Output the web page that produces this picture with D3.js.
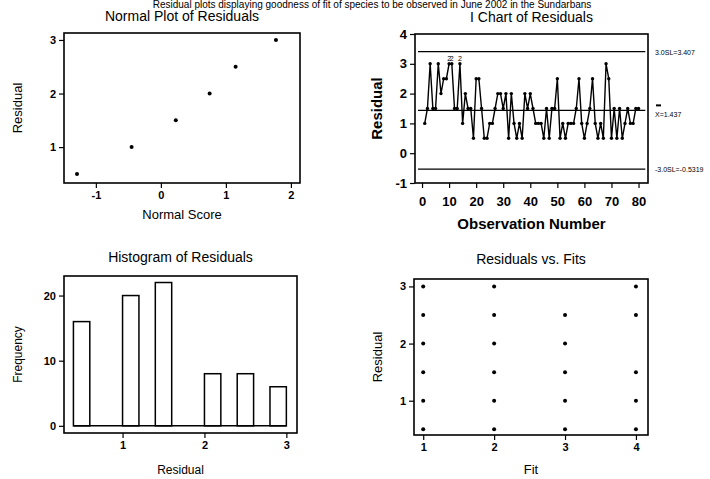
<!DOCTYPE html>
<html><head><meta charset="utf-8">
<script src="https://cdn.jsdelivr.net/npm/d3@7"></script>
<style>
body{margin:0;background:#fff;}
svg text{font-family:"Liberation Sans",Arial,sans-serif;fill:#000;}
</style></head>
<body><svg id="c" width="710" height="479"></svg>
<script>
// ---- data ----
const topCaption = "Residual plots displaying goodness of fit of species to be observed in June 2002 in the Sundarbans";
const normalScores = [-1.29, -0.45, 0.23, 0.75, 1.15, 1.77];
const normalResiduals = [0.5, 1.0, 1.5, 2.0, 2.5, 3.0];
const iChartValues = [1.0,1.5,3.0,1.5,1.5,3.0,2.0,2.5,2.5,3.0,
                      3.0,1.5,1.5,3.0,1.0,2.0,1.5,1.5,0.5,2.5,
                      2.5,1.5,0.5,0.5,1.0,1.0,1.5,2.0,2.0,1.5,
                      2.0,0.5,2.0,1.0,0.5,1.0,0.5,2.0,1.5,2.0,
                      1.5,1.0,1.0,1.0,0.5,1.5,0.5,1.5,1.5,2.5,
                      0.5,1.0,0.5,1.0,1.0,1.0,1.5,2.5,1.0,0.5,
                      1.0,1.5,2.5,1.0,0.5,1.0,0.5,3.0,2.5,0.5,
                      1.5,0.5,1.5,0.5,1.0,1.5,1.0,1.0,1.5,1.5];
const ucl = 3.407, centerLine = 1.437, lcl = -0.5319;
const limitLabels = ["3.0SL=3.407", "X=1.437", "-3.0SL=-0.5319"];
const failObs = [10, 11, 14];
const histLo = [0.4, 1.0, 1.4, 2.0, 2.4, 2.8];
const histHi = [0.6, 1.2, 1.6, 2.2, 2.6, 3.0];
const histFreq = [16, 20, 22, 8, 8, 6];
const fitX = [1,1,1,1,1,1, 2,2,2,2,2,2, 3,3,3,3,3, 4,4,4,4,4];
const fitResid = [3,2.5,2,1.5,1,0.5, 3,2.5,2,1.5,1,0.5, 2.5,2,1.5,1,0.5, 3,2.5,1.5,1,0.5];
const titles = ["Normal Plot of Residuals", "I Chart of Residuals", "Histogram of Residuals", "Residuals vs. Fits"];

// ---- drawing ----
const svg = d3.select("#c");
svg.append("text").attr("x", 372).attr("y", 8).attr("text-anchor","middle")
  .attr("font-size", 10).text(topCaption);

function panel(o){
  const g = svg.append("g");
  const x = d3.scaleLinear().domain(o.xd).range([o.l, o.r]);
  const y = d3.scaleLinear().domain(o.yd).range([o.b, o.t]);
  const fs = o.fs || 11;
  const fmt = d => String(d);
  const ax = g.append("g").attr("transform",`translate(0,${o.b})`)
    .call(d3.axisBottom(x).tickValues(o.xt).tickFormat(fmt).tickSize(5).tickSizeOuter(0).tickPadding(o.xpad||3));
  const ay = g.append("g").attr("transform",`translate(${o.l},0)`)
    .call(d3.axisLeft(y).tickValues(o.yt).tickFormat(fmt).tickSize(5).tickSizeOuter(0).tickPadding(3));
  [ax, ay].forEach(a=>{
    a.select(".domain").remove();
    a.selectAll("line").attr("stroke","#000").attr("stroke-width",1.2);
    a.selectAll("text").attr("font-size", fs).attr("font-weight", "bold").attr("fill","#000")
      .style("font-family",'"Liberation Sans",Arial,sans-serif');
  });
  g.append("rect").attr("x",o.l).attr("y",o.t).attr("width",o.r-o.l).attr("height",o.b-o.t)
    .attr("fill","none").attr("stroke","#000").attr("stroke-width",1.6);
  g.append("text").attr("x",(o.l+o.r)/2).attr("y",o.t-o.titleGap).attr("text-anchor","middle")
    .attr("font-size",14).text(o.title);
  g.append("text").attr("x",(o.l+o.r)/2).attr("y",o.xlY).attr("text-anchor","middle")
    .attr("font-size",o.lfs||12).attr("font-weight",o.bold?"bold":"normal").text(o.xl);
  g.append("text").attr("transform",`translate(${o.ylX},${(o.t+o.b)/2}) rotate(-90)`)
    .attr("text-anchor","middle").attr("font-size",o.lfs||12).attr("font-weight",o.bold?"bold":"normal").text(o.yl);
  return {g,x,y};
}

// Normal plot
{
  const p = panel({l:64,r:300,t:33,b:183,xd:[-1.49,2.14],yd:[0.33,3.13],xt:[-1,0,1,2],yt:[1,2,3],
    title:titles[0],titleGap:12,xl:"Normal Score",xlY:219,yl:"Residual",ylX:22,lfs:13});
  p.g.selectAll("circle").data(normalScores).join("circle")
    .attr("cx",(d)=>p.x(d)).attr("cy",(d,i)=>p.y(normalResiduals[i])).attr("r",2).attr("fill","#000");
}
// I chart
{
  const p = panel({l:415,r:648,t:34,b:183,xd:[-2.6,83.5],yd:[-1,4],xt:d3.range(0,81,10),yt:[-1,0,1,2,3,4],
    title:titles[1],titleGap:12,xl:"Observation Number",xlY:229,yl:"Residual",ylX:382,fs:13,lfs:15,bold:true,xpad:9});
  [ucl, centerLine, lcl].forEach(v=>{
    p.g.append("line").attr("x1",p.x(-1.5)).attr("x2",p.x(82.5)).attr("y1",p.y(v)).attr("y2",p.y(v))
      .attr("stroke","#000").attr("stroke-width",1.3);
  });
  const line = d3.line().x((d,i)=>p.x(i+1)).y(d=>p.y(d));
  p.g.append("path").attr("d",line(iChartValues)).attr("fill","none").attr("stroke","#000").attr("stroke-width",1.4);
  p.g.selectAll("circle").data(iChartValues).join("circle")
    .attr("cx",(d,i)=>p.x(i+1)).attr("cy",d=>p.y(d)).attr("r",1.7).attr("fill","#000");
  p.g.selectAll(".fl").data(failObs).join("text").attr("class","fl")
    .attr("x",d=>p.x(d)).attr("y",d=>p.y(iChartValues[d-1])-3).attr("text-anchor","middle")
    .attr("font-size",7).text("2");
  const lx = 655;
  [[ucl,limitLabels[0]],[centerLine,limitLabels[1]],[lcl,limitLabels[2]]].forEach(([v,t],i)=>{
    p.g.append("text").attr("x",lx).attr("y",p.y(v)+(i==1?7:3)).attr("font-size",7).text(t);
  });
  // bar over X
  p.g.append("line").attr("x1",lx+1).attr("x2",lx+6).attr("y1",p.y(centerLine)-5).attr("y2",p.y(centerLine)-5)
    .attr("stroke","#000").attr("stroke-width",2);
}
// Histogram
{
  const p = panel({l:64,r:297,t:276,b:433,xd:[0.285,3.13],yd:[-1.1,23],xt:[1,2,3],yt:[0,10,20],
    title:titles[2],titleGap:14,xl:"Residual",xlY:474,yl:"Frequency",ylX:22,lfs:12});
  p.g.selectAll(".bar").data(histFreq).join("rect").attr("class","bar")
    .attr("x",(d,i)=>p.x(histLo[i])).attr("width",(d,i)=>p.x(histHi[i])-p.x(histLo[i]))
    .attr("y",d=>p.y(d)).attr("height",d=>p.y(0)-p.y(d))
    .attr("fill","#fff").attr("stroke","#000").attr("stroke-width",1.5);
  p.g.append("line").attr("x1",p.x(histLo[0])).attr("x2",p.x(histHi[histHi.length-1]))
    .attr("y1",p.y(0)).attr("y2",p.y(0)).attr("stroke","#000").attr("stroke-width",1.5);
}
// Residuals vs fits
{
  const p = panel({l:414,r:648,t:279,b:435,xd:[0.87,4.17],yd:[0.4,3.13],xt:[1,2,3,4],yt:[1,2,3],
    title:titles[3],titleGap:15,xl:"Fit",xlY:474,yl:"Residual",ylX:382,lfs:13});
  p.g.selectAll("circle").data(fitX).join("circle")
    .attr("cx",d=>p.x(d)).attr("cy",(d,i)=>p.y(fitResid[i])).attr("r",2).attr("fill","#000");
}
</script></body></html>
